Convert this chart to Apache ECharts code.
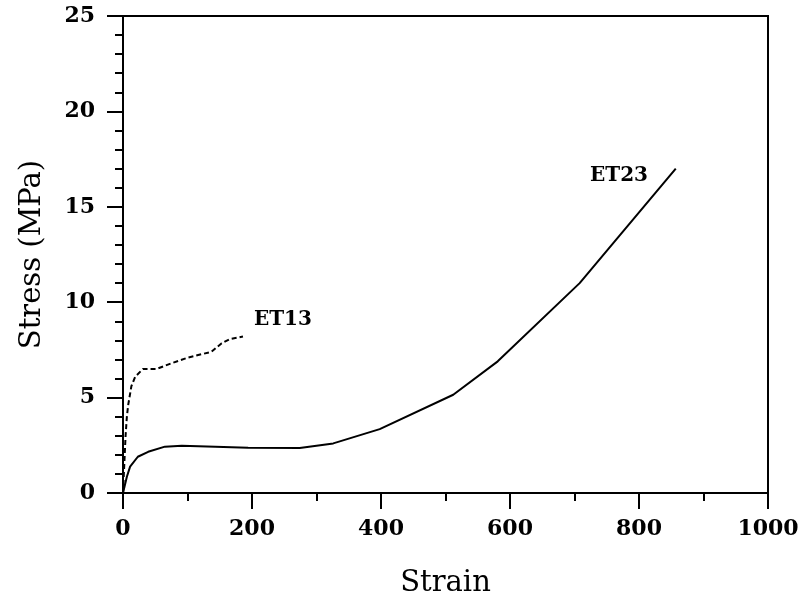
<!DOCTYPE html>
<html>
<head>
	<meta charset="UTF-8">
	<title>Stress vs Strain</title>
	<script src="https://cdn.jsdelivr.net/npm/echarts@6/dist/echarts.min.js"></script>
	<style>
		body{margin:0;background:#fff;}
		#main{width:800px;height:596px;}
	</style>
</head>
<body>
	<div id="main"></div>
<script type="text/javascript">
// 数据：应变 / 应力 (MPa)
var et23Strain = [0, 6, 11, 23, 39, 65, 91, 143, 194, 274, 326, 398, 512, 581, 708, 857];
var et23Stress = [0, 0.85, 1.38, 1.9, 2.16, 2.43, 2.48, 2.43, 2.37, 2.36, 2.6, 3.35, 5.15, 6.9, 11.0, 17.0];
var et13Strain = [0, 2, 4, 6, 8, 13, 19, 31, 52, 75, 101, 137, 153, 166, 186];
var et13Stress = [0, 1.5, 3.0, 4.0, 4.6, 5.6, 6.1, 6.5, 6.5, 6.8, 7.1, 7.4, 7.85, 8.07, 8.2];
var xTicks = [0, 200, 400, 600, 800, 1000];
var yTicks = [0, 5, 10, 15, 20, 25];
// 曲线标注位置(数据坐标)
var labelNames = ['ET23', 'ET13'];
var labelAt = [[769, 16.6], [248, 9.07]];

function zip(a, b){
	var out = [];
	for (var i = 0; i < a.length; i++) out.push([a[i], b[i]]);
	return out;
}

var font = 'DejaVu Serif';
var myChart = echarts.init(document.getElementById('main'));
var option = {
	backgroundColor: '#fff',
	animation: false,
	grid: {
		left: 123, right: 32, top: 16, bottom: 103,
		outerBoundsMode: 'none', containLabel: false,
		show: true, borderColor: '#000', borderWidth: 2
	},
	xAxis: {
		type: 'value',
		min: xTicks[0], max: xTicks[xTicks.length - 1], interval: 200,
		name: 'Strain', nameLocation: 'middle', nameGap: 76,
		nameTextStyle: {fontFamily: font, fontSize: 29, color: '#000'},
		axisLine: {lineStyle: {color: '#000', width: 2}},
		axisTick: {length: 16, lineStyle: {color: '#000', width: 2}},
		minorTick: {show: true, splitNumber: 2, length: 8, lineStyle: {color: '#000', width: 2}},
		axisLabel: {margin: 25, fontFamily: font, fontWeight: 'bold', fontSize: 22, color: '#000',
			formatter: function(v){ return String(v); }},
		splitLine: {show: false}
	},
	yAxis: {
		type: 'value',
		min: yTicks[0], max: yTicks[yTicks.length - 1], interval: 5,
		name: 'Stress (MPa)', nameLocation: 'middle', nameGap: 76,
		nameTextStyle: {fontFamily: font, fontSize: 29, color: '#000'},
		axisLine: {lineStyle: {color: '#000', width: 2}},
		axisTick: {length: 16, lineStyle: {color: '#000', width: 2}},
		minorTick: {show: true, splitNumber: 5, length: 8, lineStyle: {color: '#000', width: 2}},
		axisLabel: {margin: 28, fontFamily: font, fontWeight: 'bold', fontSize: 22, color: '#000',
			formatter: function(v){ return String(v); }},
		splitLine: {show: false}
	},
	series: [
		{
			name: 'ET23', type: 'line', showSymbol: false,
			data: zip(et23Strain, et23Stress),
			lineStyle: {color: '#000', width: 2},
			markPoint: {
				symbol: 'circle', symbolSize: 0,
				label: {show: true, formatter: '{b}', fontFamily: font, fontWeight: 'bold', fontSize: 20, color: '#000'},
				data: [{name: labelNames[0], coord: labelAt[0]}]
			}
		},
		{
			name: 'ET13', type: 'line', showSymbol: false,
			data: zip(et13Strain, et13Stress),
			lineStyle: {color: '#000', width: 2, type: [5, 3]},
			markPoint: {
				symbol: 'circle', symbolSize: 0,
				label: {show: true, formatter: '{b}', fontFamily: font, fontWeight: 'bold', fontSize: 20, color: '#000'},
				data: [{name: labelNames[1], coord: labelAt[1]}]
			}
		}
	]
};
myChart.setOption(option);
</script>
</body>
</html>
